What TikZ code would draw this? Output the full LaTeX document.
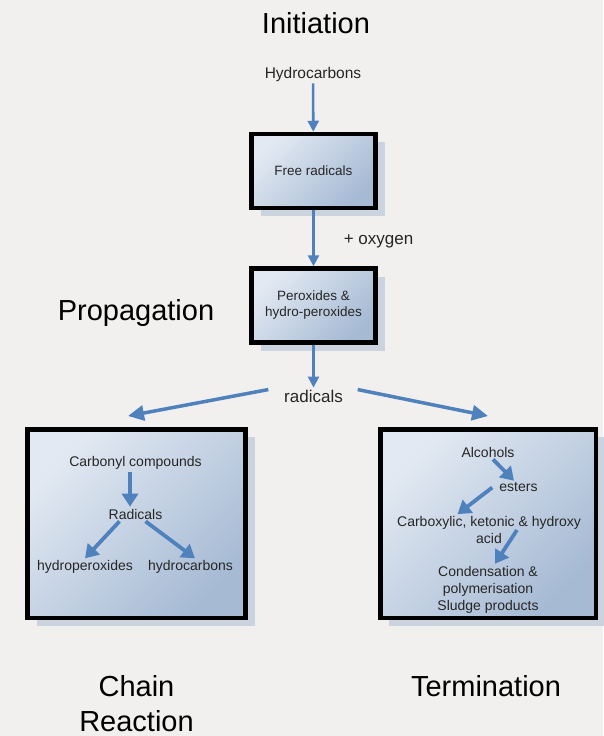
\documentclass[tikz,border=0pt]{standalone}
\usepackage{fontspec}
\setmainfont{Liberation Sans}
\usetikzlibrary{arrows.meta, positioning, shadows}

\definecolor{arrowblue}{HTML}{4F81BD}
\definecolor{boxlight}{HTML}{E2E9F2}
\definecolor{boxdark}{HTML}{A6BAD4}
\definecolor{shadowblue}{HTML}{CBD3DF}
\definecolor{bgcolor}{HTML}{F2F0EE}
\definecolor{textdark}{HTML}{262626}

\begin{document}
\begin{tikzpicture}[
    x=1pt, y=1pt,
    block/.style={rectangle, draw=black, line width=4.5pt, top color=boxlight, bottom color=boxdark, shading angle=45, minimum width=124pt, minimum height=74pt, align=center, text=textdark, font=\fontsize{13.5}{16}\selectfont, drop shadow={shadow xshift=9pt, shadow yshift=-8pt, fill=shadowblue, opacity=1}},
    bigblock/.style={block, minimum width=218pt, minimum height=188.5pt},
    stage/.style={font=\fontsize{29}{35}\selectfont, align=center, text=black},
    label/.style={font=\fontsize{17}{20}\selectfont, text=textdark, inner sep=2pt},
    item/.style={font=\fontsize{14}{17}\selectfont, text=textdark, inner sep=2pt, align=center},
    arrow/.style={line width=2.6pt, draw=arrowblue, -{Triangle[length=11pt, width=11pt]}},
    widearrow/.style={line width=3.5pt, draw=arrowblue, -{Triangle[length=16pt, width=15pt]}},
    inarrow/.style={line width=3.8pt, draw=arrowblue, -{Triangle[length=13pt, width=16pt]}}
]
% 背景
\fill[bgcolor] (0,0) rectangle (603,-736);
\useasboundingbox (0,0) rectangle (603,-736);

% 起始
\node[label, font=\fontsize{15.5}{18}\selectfont] (hydro) at (313,-74) {Hydrocarbons};
\node[stage, above of=hydro, node distance=51pt, xshift=3pt] (init) {Initiation};

% 主干方块
\node[block] (free) at (313.5,-171) {Free radicals};
\node[block, below of=free, node distance=134.5pt] (perox) {Peroxides \&\\hydro-peroxides};
\node[label, below of=perox, node distance=90.5pt] (radl) {radicals};
\node[stage] (prop) at (136,-313) {Propagation};

% 下方两个大方块
\node[bigblock] (chainbox) at (136.5,-523.5) {};
\node[bigblock, minimum width=215.5pt] (termbox) at (488,-523.5) {};

% 链反应内容
\node[item] (carb) at (135.5,-463) {Carbonyl compounds};
\node[item, below of=carb, node distance=51pt] (rad) {Radicals};
\node[item] (hperox) at (85,-567) {hydroperoxides};
\node[item, right of=hperox, node distance=105.5pt] (hcarb) {hydrocarbons};

% 终止内容
\node[item] (alc) at (488,-452) {Alcohols};
\node[item] (est) at (518.5,-487.5) {esters};
\node[item] (carbx) at (489,-530) {Carboxylic, ketonic \& hydroxy\\acid};
\node[item] (cond) at (488,-589.5) {Condensation \&\\polymerisation\\Sludge products};

% 阶段标签
\node[stage, below of=chainbox, node distance=180pt] (chain) {Chain\\Reaction};
\node[stage, below of=termbox, node distance=162.5pt, xshift=-2pt] (term) {Termination};

% 连接线
\draw[arrow] (hydro) -- (free);
\draw[arrow] (free) -- node[label, right, xshift=27pt, yshift=-3pt] (oxy) {+ oxygen} (perox);
\draw[arrow] (perox) -- (radl);
\draw[widearrow] ([xshift=-13.7pt, yshift=-2pt]radl.north west) -- ([xshift=-8.5pt, yshift=11pt]chainbox.north);
\draw[widearrow] ([xshift=12.7pt, yshift=-2pt]radl.north east) -- ([yshift=11pt]termbox.north);

\draw[inarrow] ([xshift=-5.5pt]carb.south) -- ([xshift=-5.5pt]rad.north);
\draw[inarrow] ([xshift=-16pt]rad.south) -- (hperox.north);
\draw[inarrow] ([xshift=10pt]rad.south) -- ([xshift=4.5pt]hcarb.north);

\draw[inarrow] ([xshift=5pt]alc.south) -- ([xshift=-4.5pt]est.north);
\draw[inarrow] ([xshift=-5pt]est.west) -- ([xshift=-31.5pt]carbx.north);
\draw[inarrow] ([xshift=28pt]carbx.center) -- ([xshift=7pt]cond.north);
\end{tikzpicture}
\end{document}
